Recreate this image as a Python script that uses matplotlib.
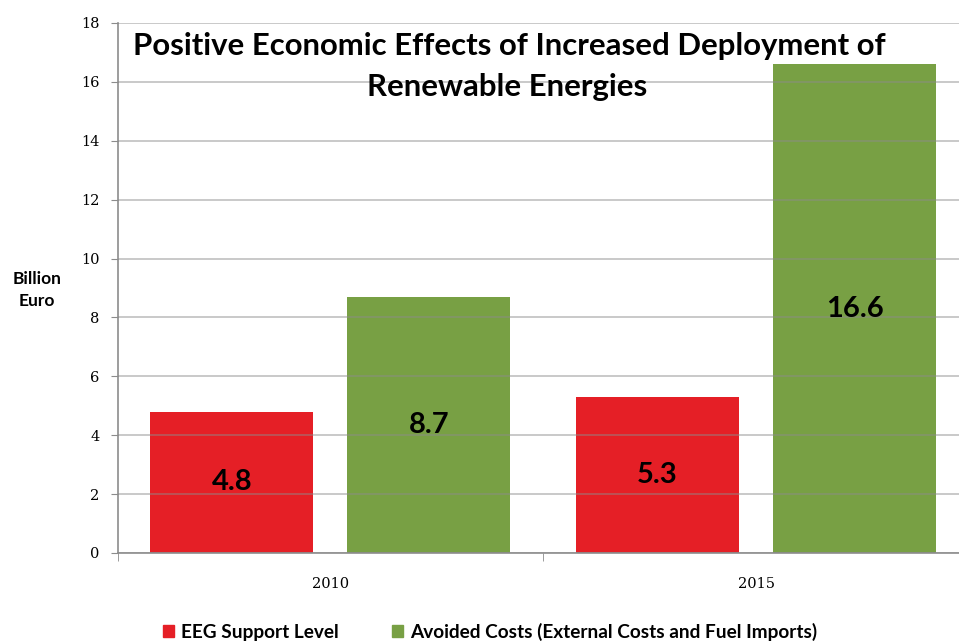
import numpy as np
import matplotlib.pyplot as plt
from matplotlib.patches import Patch
from matplotlib.ticker import FixedLocator

# data
years = ['2010', '2015']
eeg_support = [4.8, 5.3]
avoided_costs = [8.7, 16.6]
series_names = ['EEG Support Level', 'Avoided Costs (External Costs and Fuel Imports)']
colors = ['#E51F26', '#78A044']

title_font = ['Lato', 'DejaVu Sans']
tick_font = ['DejaVu Serif']

fig = plt.figure(figsize=(9.59, 6.42), dpi=100)
ax = fig.add_axes([117.7 / 959, 89 / 642, (959 - 117.7) / 959, 530 / 642])

x = np.arange(len(years))
width = 0.383
offset = (0.08 + width) / 2
bars1 = ax.bar(x - offset, eeg_support, width, color=colors[0], zorder=1)
bars2 = ax.bar(x + offset, avoided_costs, width, color=colors[1], zorder=1)

for bars in (bars1, bars2):
    ax.bar_label(bars, labels=[f'{v:.1f}' for v in bars.datavalues], label_type='center',
                 fontsize=21, fontweight='bold', family=title_font, color='black')

ax.set_ylim(0, 18)
ax.set_yticks(np.arange(0, 19, 2))
ax.set_xlim(-0.5, 1.477)
ax.set_xticks(x)
ax.set_xticklabels(years)
ax.xaxis.set_minor_locator(FixedLocator([-0.5, 0.5]))
ax.tick_params(axis='x', which='major', length=0, pad=17)
ax.tick_params(axis='x', which='minor', length=6, color='#8c8c8c')
ax.tick_params(axis='y', length=5, color='#8c8c8c', pad=8)
for lbl in ax.get_xticklabels() + ax.get_yticklabels():
    lbl.set_family(tick_font)
    lbl.set_fontsize(10.5)

# grid lines sit over the bars, as in the original
ax.grid(axis='y', color='#8c8c8c', linewidth=1.2, zorder=2)
ax.set_axisbelow(False)
for line in ax.get_ygridlines():
    line.set_alpha(0.55)
for side in ['top', 'right']:
    ax.spines[side].set_visible(False)
for side in ['left', 'bottom']:
    ax.spines[side].set_color('#8c8c8c')
    ax.spines[side].set_linewidth(1.2)

fig.text(37 / 959, 1 - 290 / 642, 'Billion\nEuro', ha='center', va='center',
         fontsize=12.5, fontweight='bold', family=title_font, linespacing=1.45)

fig.text(509 / 959, 1 - 46 / 642, 'Positive Economic Effects of Increased Deployment of',
         ha='center', va='center', fontsize=22.4, fontweight='bold', family=title_font)
fig.text(507 / 959, 1 - 87 / 642, 'Renewable Energies',
         ha='center', va='center', fontsize=22.4, fontweight='bold', family=title_font)

handles = [Patch(color=c) for c in colors]
fig.legend(handles, series_names, loc='center', bbox_to_anchor=(490 / 959, 1 - 632 / 642),
           ncol=2, frameon=False, handlelength=0.6, handleheight=0.6, handletextpad=0.35,
           columnspacing=2.8, prop={'family': title_font, 'weight': 'bold', 'size': 13.7})

fig.savefig('out.png', dpi=100)
